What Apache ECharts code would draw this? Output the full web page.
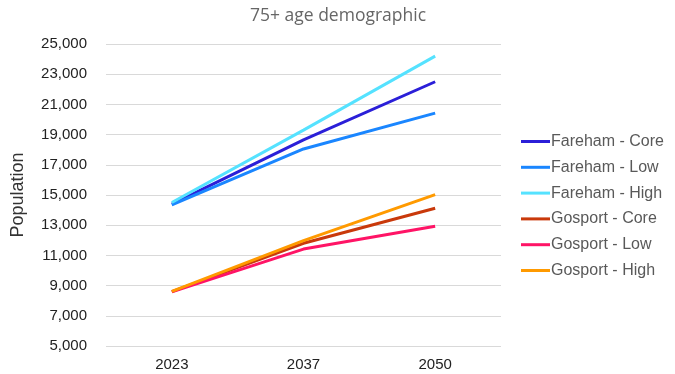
<!DOCTYPE html>
<html>
<head>
<meta charset="utf-8">
<script src="https://cdn.jsdelivr.net/npm/echarts@6/dist/echarts.min.js"></script>
<style>html,body{margin:0;padding:0;background:#fff}#c{width:675px;height:374px}</style>
</head>
<body>
<div id="c"></div>
<script>
const categories = ['2023', '2037', '2050'];
const seriesNames = ['Fareham - Core', 'Fareham - Low', 'Fareham - High', 'Gosport - Core', 'Gosport - Low', 'Gosport - High'];
const farehamCore = [14400, 18650, 22500];
const farehamLow = [14350, 18050, 20420];
const farehamHigh = [14500, 19300, 24200];
const gosportCore = [8600, 11800, 14120];
const gosportLow = [8580, 11420, 12930];
const gosportHigh = [8620, 11980, 15020];
const yTicks = [5000, 7000, 9000, 11000, 13000, 15000, 17000, 19000, 21000, 23000, 25000];
const colors = ['#2b1fd8', '#1a86ff', '#55e2ff', '#c9390b', '#ff1466', '#ff9a00'];

const allData = [farehamCore, farehamLow, farehamHigh, gosportCore, gosportLow, gosportHigh];
const chart = echarts.init(document.getElementById('c'));
chart.setOption({
  animation: false,
  title: {
    text: '75+ age demographic',
    left: 333, top: 2, textAlign: 'center',
    textStyle: { fontFamily: 'Open Sans', fontWeight: 'normal', fontSize: 17.5, color: '#666' }
  },
  grid: { left: 106, right: 174, top: 44, bottom: 28 },
  legend: {
    orient: 'vertical', left: 521, top: 133, itemGap: 8.8, padding: 0,
    itemWidth: 29, itemHeight: 3,
    icon: 'rect',
    textStyle: { fontFamily: 'Liberation Sans', fontSize: 16, lineHeight: 17, color: '#595959', padding: [0, 0, 0, -4] },
    data: seriesNames
  },
  xAxis: {
    type: 'category', data: categories, boundaryGap: true,
    axisLine: { show: false }, axisTick: { show: false },
    axisLabel: { fontFamily: 'Liberation Sans', fontSize: 15, color: '#222', margin: 11 }
  },
  yAxis: {
    type: 'value', min: yTicks[0], max: yTicks[yTicks.length - 1], interval: 2000,
    name: 'Population', nameLocation: 'middle', nameGap: 79, nameRotate: 90,
    nameTextStyle: { fontFamily: 'Liberation Sans', fontSize: 18, color: '#333' },
    axisLine: { show: false }, axisTick: { show: false },
    splitLine: { lineStyle: { color: '#d9d9d9', width: 1 } },
    axisLabel: {
      fontFamily: 'Liberation Sans', fontSize: 15, color: '#222', margin: 19,
      formatter: v => v.toLocaleString('en-US')
    }
  },
  series: seriesNames.map((n, i) => ({
    name: n, type: 'line', data: allData[i],
    symbol: 'none', color: colors[i],
    lineStyle: { width: 3, color: colors[i] }
  }))
});
</script>
</body>
</html>
